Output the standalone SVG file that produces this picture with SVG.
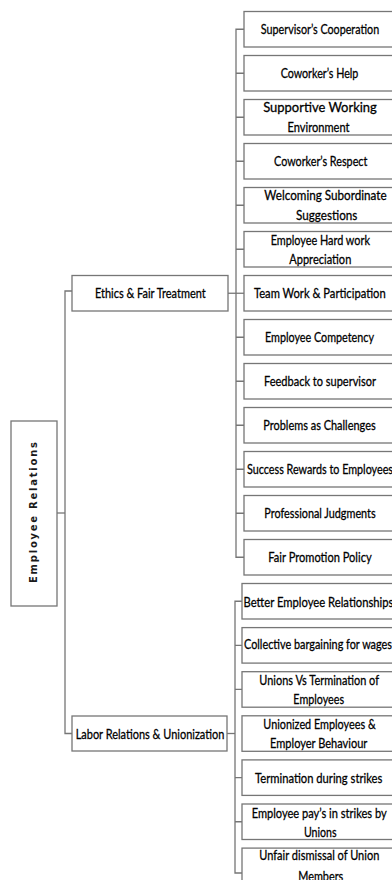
<svg xmlns="http://www.w3.org/2000/svg" width="392" height="880" viewBox="0 0 392 880">
  <style>
    .box { fill: #ffffff; stroke: #767676; stroke-width: 1.3; }
    .wire { fill: none; stroke: #767676; stroke-width: 1.3; }
    .lbl { font-family: "Liberation Sans Narrow", Lato, "Liberation Sans", sans-serif; font-size: 14px; fill: #000000; stroke: #000000; stroke-width: 0.3; text-anchor: middle; }
    .root { font-family: "DejaVu Sans", Verdana, sans-serif; font-size: 10px; font-weight: bold; fill: #1a1a1a; text-anchor: middle; }
  </style>
  <rect width="392" height="880" fill="#ffffff"/>

  <!-- connectors -->
  <g id="connectors" class="wire">
    <path d="M57 513H65"/>
    <path d="M72 291H65V733.5H72"/>
    <path d="M228 293.25H244"/>
    <path d="M244 29.25H236V557.25H244"/>
    <path d="M236 73.25H244M236 117.25H244M236 161.25H244M236 205.25H244M236 249.25H244M236 337.25H244M236 381.25H244M236 425.25H244M236 469.25H244M236 513.25H244"/>
    <path d="M227 733.5H235"/>
    <path d="M242 601.25H235V873H242"/>
    <path d="M235 645.35H242M235 689.45H242M235 777.65H242M235 821.75H242"/>
  </g>

  <!-- root -->
  <g id="employee-relations">
    <rect class="box" x="11" y="421" width="46" height="185"/>
    <text class="root" transform="translate(36.8 512.5) rotate(-90)" x="0" y="0" textLength="141" lengthAdjust="spacing">Employee Relations</text>
  </g>

  <!-- second level -->
  <g id="ethics-fair-treatment">
    <rect class="box" x="72" y="275.5" width="156" height="35.5"/>
    <text class="lbl" x="150.3" y="298.3" textLength="110.7" lengthAdjust="spacingAndGlyphs">Ethics &amp; Fair Treatment</text>
  </g>
  <g id="labor-relations-unionization">
    <rect class="box" x="72" y="716" width="155" height="35"/>
    <text class="lbl" x="150" y="738.5" textLength="148.7" lengthAdjust="spacingAndGlyphs">Labor Relations &amp; Unionization</text>
  </g>

  <!-- ethics & fair treatment items -->
  <g id="supervisors-cooperation">
    <rect class="box" x="244" y="11.5" width="148.8" height="35.5"/>
    <text class="lbl" x="320" y="34.2" textLength="118.3" lengthAdjust="spacingAndGlyphs">Supervisor’s Cooperation</text>
  </g>
  <g id="coworkers-help">
    <rect class="box" x="244" y="55.5" width="148.8" height="35.5"/>
    <text class="lbl" x="319.5" y="78.2" textLength="77.7" lengthAdjust="spacingAndGlyphs">Coworker’s Help</text>
  </g>
  <g id="supportive-working-environment">
    <rect class="box" x="244" y="99.5" width="148.8" height="35.5"/>
    <text class="lbl" x="320" y="112.3" textLength="113.7" lengthAdjust="spacingAndGlyphs">Supportive Working</text>
    <text class="lbl" x="318.5" y="131.5" textLength="62" lengthAdjust="spacingAndGlyphs">Environment</text>
  </g>
  <g id="coworkers-respect">
    <rect class="box" x="244" y="143.5" width="148.8" height="35.5"/>
    <text class="lbl" x="320.7" y="166.2" textLength="93.3" lengthAdjust="spacingAndGlyphs">Coworker’s Respect</text>
  </g>
  <g id="welcoming-subordinate-suggestions">
    <rect class="box" x="244" y="187.5" width="148.8" height="35.5"/>
    <text class="lbl" x="325.5" y="200.3" textLength="122.3" lengthAdjust="spacingAndGlyphs">Welcoming Subordinate</text>
    <text class="lbl" x="326.7" y="219.5" textLength="61.3" lengthAdjust="spacingAndGlyphs">Suggestions</text>
  </g>
  <g id="employee-hardwork-appreciation">
    <rect class="box" x="244" y="231.5" width="148.8" height="35.5"/>
    <text class="lbl" x="320.3" y="244.8" textLength="99.3" lengthAdjust="spacingAndGlyphs">Employee  Hard work</text>
    <text class="lbl" x="320.3" y="264.1" textLength="62" lengthAdjust="spacingAndGlyphs">Appreciation</text>
  </g>
  <g id="team-work-participation">
    <rect class="box" x="244" y="275.5" width="148.8" height="35.5"/>
    <text class="lbl" x="319.8" y="298.2" textLength="131.7" lengthAdjust="spacingAndGlyphs">Team Work &amp; Participation</text>
  </g>
  <g id="employee-competency">
    <rect class="box" x="244" y="319.5" width="148.8" height="35.5"/>
    <text class="lbl" x="319.5" y="342.2" textLength="109" lengthAdjust="spacingAndGlyphs">Employee  Competency</text>
  </g>
  <g id="feedback-to-supervisor">
    <rect class="box" x="244" y="363.5" width="148.8" height="35.5"/>
    <text class="lbl" x="320" y="386.2" textLength="112" lengthAdjust="spacingAndGlyphs">Feedback to supervisor</text>
  </g>
  <g id="problems-as-challenges">
    <rect class="box" x="244" y="407.5" width="148.8" height="35.5"/>
    <text class="lbl" x="319.5" y="430.2" textLength="112.3" lengthAdjust="spacingAndGlyphs">Problems as Challenges</text>
  </g>
  <g id="success-rewards">
    <rect class="box" x="244" y="451.5" width="148.8" height="35.5"/>
    <text class="lbl" x="320" y="474.2" textLength="146" lengthAdjust="spacingAndGlyphs">Success Rewards to  Employees</text>
  </g>
  <g id="professional-judgments">
    <rect class="box" x="244" y="495.5" width="148.8" height="35.5"/>
    <text class="lbl" x="320" y="518.2" textLength="111.3" lengthAdjust="spacingAndGlyphs">Professional Judgments</text>
  </g>
  <g id="fair-promotion-policy">
    <rect class="box" x="244" y="539.5" width="148.8" height="35.5"/>
    <text class="lbl" x="320" y="562.2" textLength="103.3" lengthAdjust="spacingAndGlyphs">Fair Promotion Policy</text>
  </g>

  <!-- labor relations & unionization items -->
  <g id="better-employee-relationships">
    <rect class="box" x="242" y="583.5" width="150.8" height="35.5"/>
    <text class="lbl" x="318.5" y="606.5" textLength="150" lengthAdjust="spacingAndGlyphs">Better  Employee  Relationships</text>
  </g>
  <g id="collective-bargaining">
    <rect class="box" x="242" y="627.6" width="150.8" height="35.5"/>
    <text class="lbl" x="318" y="649.1" textLength="148" lengthAdjust="spacingAndGlyphs">Collective bargaining for wages</text>
  </g>
  <g id="unions-vs-termination">
    <rect class="box" x="242" y="671.7" width="150.8" height="35.5"/>
    <text class="lbl" x="319.2" y="684.9" textLength="119.7" lengthAdjust="spacingAndGlyphs">Unions Vs Termination of</text>
    <text class="lbl" x="318.7" y="704.2" textLength="50.7" lengthAdjust="spacingAndGlyphs">Employees</text>
  </g>
  <g id="unionized-employees-employer-behaviour">
    <rect class="box" x="242" y="715.8" width="150.8" height="35.5"/>
    <text class="lbl" x="319.5" y="729" textLength="112.3" lengthAdjust="spacingAndGlyphs">Unionized Employees &amp;</text>
    <text class="lbl" x="318.7" y="748.3" textLength="97.3" lengthAdjust="spacingAndGlyphs">Employer  Behaviour</text>
  </g>
  <g id="termination-during-strikes">
    <rect class="box" x="242" y="759.9" width="150.8" height="35.5"/>
    <text class="lbl" x="318.7" y="782.7" textLength="127.3" lengthAdjust="spacingAndGlyphs">Termination during strikes</text>
  </g>
  <g id="employee-pay-in-strikes">
    <rect class="box" x="242" y="804" width="150.8" height="35.5"/>
    <text class="lbl" x="319.2" y="818" textLength="135" lengthAdjust="spacingAndGlyphs">Employee  pay’s in strikes by</text>
    <text class="lbl" x="320.3" y="836.7" textLength="32.7" lengthAdjust="spacingAndGlyphs">Unions</text>
  </g>
  <g id="unfair-dismissal">
    <rect class="box" x="242" y="848.1" width="150.8" height="50"/>
    <text class="lbl" x="319.3" y="860" textLength="120" lengthAdjust="spacingAndGlyphs">Unfair dismissal of Union</text>
    <text class="lbl" x="320.8" y="880.5" textLength="45" lengthAdjust="spacingAndGlyphs">Members</text>
  </g>
</svg>
